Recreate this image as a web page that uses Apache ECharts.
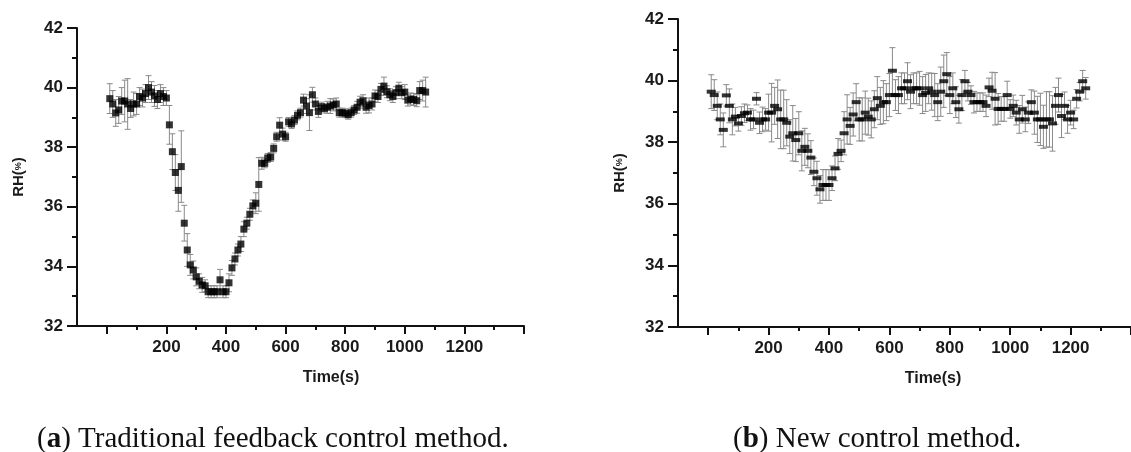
<!DOCTYPE html>
<html><head><meta charset="utf-8">
<script src="https://cdn.jsdelivr.net/npm/echarts@6/dist/echarts.min.js"></script>
<style>html,body{margin:0;padding:0;background:#fff}#c{width:1131px;height:452px}</style>
</head><body><div id="c"></div>
<script>
// ---- Panel (a): Traditional feedback control method ----
const timeA = [10,20,30,40,50,60,70,80,90,100,110,120,130,140,150,160,170,180,190,200,
  210,220,230,240,250,260,270,280,290,300,310,320,330,340,350,360,370,380,390,400,
  410,420,430,440,450,460,470,480,490,500,510,520,530,540,550,560,570,580,590,600,
  610,620,630,640,650,660,670,680,690,700,710,720,730,740,750,760,770,780,790,800,
  810,820,830,840,850,860,870,880,890,900,910,920,930,940,950,960,970,980,990,1000,
  1010,1020,1030,1040,1050,1060,1070];
const rhA = [39.63,39.45,39.15,39.25,39.55,39.55,39.45,39.3,39.45,39.45,39.7,39.65,39.8,40.0,39.85,39.72,39.6,39.8,39.7,39.65,
  38.75,37.85,37.15,36.55,37.35,35.45,34.55,34.05,33.88,33.65,
  33.5,33.38,33.35,33.15,33.15,33.15,33.15,33.55,33.15,33.15,
  33.45,33.95,34.25,34.55,34.75,35.25,35.45,35.75,36.03,36.12,
  36.75,37.46,37.46,37.64,37.67,37.96,38.35,38.74,38.44,38.35,
  38.85,38.78,38.91,39.07,39.16,39.58,39.38,39.16,39.76,39.45,
  39.2,39.36,39.3,39.34,39.38,39.42,39.45,39.16,39.16,39.14,
  39.09,39.16,39.25,39.34,39.51,39.56,39.34,39.4,39.45,39.72,
  39.7,39.94,40.05,39.86,39.76,39.7,39.83,39.98,39.83,39.85,
  39.58,39.62,39.6,39.56,39.9,39.9,39.85];
const errA = [0.5,0.45,0.45,0.45,0.45,0.7,0.85,0.3,0.4,0.35,0.3,0.3,0.3,0.4,0.35,0.35,0.3,0.3,0.3,0.25,
  0.65,0.6,0.6,0.7,1.2,0.6,0.55,0.35,0.3,0.3,
  0.25,0.25,0.2,0.2,0.2,0.2,0.2,0.35,0.2,0.2,
  0.3,0.25,0.2,0.2,0.25,0.25,0.2,0.2,0.2,0.35,
  0.9,0.2,0.15,0.15,0.15,0.15,0.15,0.25,0.2,0.15,
  0.15,0.15,0.15,0.15,0.15,0.2,0.25,0.6,0.25,0.2,
  0.2,0.15,0.15,0.2,0.25,0.2,0.2,0.15,0.15,0.15,
  0.15,0.15,0.15,0.2,0.2,0.2,0.2,0.25,0.2,0.2,
  0.2,0.2,0.3,0.2,0.2,0.2,0.2,0.2,0.2,0.25,
  0.2,0.2,0.2,0.2,0.3,0.35,0.5];

// ---- Panel (b): New control method ----
const timeB = [10,20,30,40,50,60,70,80,90,100,110,120,130,140,150,160,170,180,190,200,
  210,220,230,240,250,260,270,280,290,300,310,320,330,340,350,360,370,380,390,400,
  410,420,430,440,450,460,470,480,490,500,510,520,530,540,550,560,570,580,590,600,
  610,620,630,640,650,660,670,680,690,700,710,720,730,740,750,760,770,780,790,800,
  810,820,830,840,850,860,870,880,890,900,910,920,930,940,950,960,970,980,990,1000,
  1010,1020,1030,1040,1050,1060,1070,1080,1090,1100,1110,1120,1130,1140,1150,1160,1170,1180,1190,1200,
  1210,1220,1230,1240,1250];
const rhB = [39.64,39.53,39.18,38.74,38.4,39.52,39.18,38.74,38.83,38.61,
  38.85,38.94,38.96,38.74,38.74,39.41,38.63,38.74,38.74,38.96,
  38.96,39.18,39.07,38.74,38.74,38.63,38.18,38.29,38.07,38.29,
  37.72,37.85,37.72,37.5,37.04,36.83,36.47,36.61,36.61,36.61,
  36.83,37.15,37.62,37.72,38.29,38.74,38.53,38.9,39.3,38.74,
  38.74,38.96,38.83,38.74,39.07,39.43,39.18,39.3,39.3,39.53,
  40.32,39.53,39.53,39.75,39.75,39.98,39.64,39.75,39.75,39.75,
  39.53,39.6,39.75,39.64,39.53,39.3,39.64,39.98,40.21,39.53,
  39.75,39.3,39.07,39.53,39.98,39.64,39.53,39.3,39.3,39.3,
  39.3,39.18,39.78,39.67,39.41,39.08,39.08,39.08,39.53,39.08,
  39.18,38.96,38.74,39.07,38.74,38.96,39.3,38.96,38.74,38.74,
  38.5,38.74,38.74,38.61,39.18,39.53,38.85,39.18,38.74,38.96,
  38.74,39.41,39.64,39.98,39.75];
const errB = [0.55,0.5,0.45,0.5,0.55,0.35,0.55,0.5,0.3,0.25,
  0.3,0.3,0.25,0.35,0.3,0.2,0.35,0.4,0.35,0.6,
  0.95,0.6,0.95,0.95,0.95,0.75,0.55,0.9,0.7,0.7,
  0.65,0.6,0.55,0.55,0.45,0.55,0.45,0.5,0.5,0.5,
  0.4,0.4,0.5,0.35,0.7,0.8,0.6,0.7,0.6,0.7,
  0.7,0.7,0.6,0.6,0.6,0.7,0.6,0.7,0.6,0.7,
  0.75,0.5,0.6,0.5,0.5,0.6,0.55,0.5,0.5,0.55,
  0.6,0.6,0.5,0.6,0.7,0.6,0.8,0.85,0.7,0.6,
  0.5,0.5,0.45,0.5,0.35,0.3,0.3,0.35,0.3,0.3,
  0.3,0.35,0.3,0.6,0.85,0.5,0.4,0.4,0.45,0.3,
  0.35,0.4,0.45,0.45,0.4,0.35,0.4,0.7,0.75,0.85,
  0.7,0.9,0.9,0.9,0.6,0.55,0.7,0.45,0.45,0.4,
  0.3,0.3,0.3,0.35,0.35];

// ---- Axis ticks / labels ----
const xLabelValues = [200,400,600,800,1000,1200];
const xMajorTicks = [0,200,400,600,800,1000,1200,1400];
const xMinorTicks = [100,300,500,700,900,1100,1300];
const xTitle = 'Time(s)';
const yTitle = '{a|RH(}{b|%}{a|)}';
const captionA = '({b|a}) Traditional feedback control method.';
const captionB = '({b|b}) New control method.';

const chart = echarts.init(document.getElementById('c'), null, {renderer: 'canvas'});
const AX = '#111';
const LBL = '#1a1a1a';
const SANS = '"Liberation Sans", Arial, sans-serif';
const SERIF = '"Liberation Serif", "Times New Roman", serif';

function errData(t, v, e) { return t.map((x, i) => [x, v[i] - e[i], v[i] + e[i]]); }
function ptData(t, v) { return t.map((x, i) => [x, v[i]]); }

function errRender(capHalf) {
  return function (params, api) {
    const x = api.value(0), lo = api.value(1), hi = api.value(2);
    const a = api.coord([x, hi]), b = api.coord([x, lo]);
    const s = {stroke: '#8a8a8a', lineWidth: 1};
    return {type: 'group', children: [
      {type: 'line', shape: {x1: a[0], y1: a[1], x2: b[0], y2: b[1]}, style: s},
      {type: 'line', shape: {x1: a[0] - capHalf, y1: a[1], x2: a[0] + capHalf, y2: a[1]}, style: s},
      {type: 'line', shape: {x1: b[0] - capHalf, y1: b[1], x2: b[0] + capHalf, y2: b[1]}, style: s}
    ]};
  };
}

function xAxes(g, shift) {
  return [
    {gridIndex: g, type: 'value', position: 'bottom', min: -100, max: 1400, interval: 100,
      axisLine: {show: true, onZero: false, lineStyle: {color: AX, width: 2}},
      axisTick: {show: true, customValues: xMajorTicks, length: 8, lineStyle: {color: AX, width: 2}},
      axisLabel: {customValues: xLabelValues, fontSize: 17, fontWeight: 'bold', color: LBL, margin: 13, fontFamily: SANS,
        formatter: v => String(v)},
      splitLine: {show: false},
      name: xTitle, nameLocation: 'middle', nameGap: 44,
      nameTextStyle: {fontSize: 16, fontWeight: 'bold', color: LBL, fontFamily: SANS, padding: [0, 0, 0, shift]}},
    {gridIndex: g, type: 'value', position: 'bottom', offset: 0, min: -100, max: 1400, interval: 100,
      axisLine: {show: false, onZero: false},
      axisTick: {show: true, customValues: xMinorTicks, length: 4, lineStyle: {color: AX, width: 2}},
      axisLabel: {show: false}, splitLine: {show: false}}
  ];
}
function yAxis(g) {
  return {gridIndex: g, type: 'value', position: 'left', min: 32, max: 42, interval: 2,
    axisLine: {show: true, onZero: false, lineStyle: {color: AX, width: 2}},
    axisTick: {show: true, length: 10, lineStyle: {color: AX, width: 2}},
    minorTick: {show: true, splitNumber: 2, length: 5, lineStyle: {color: AX, width: 2}},
    axisLabel: {fontSize: 17, fontWeight: 'bold', color: LBL, margin: 14, fontFamily: SANS},
    splitLine: {show: false},
    name: yTitle, nameLocation: 'middle', nameGap: 51, nameRotate: 90,
    nameTextStyle: {color: LBL, fontFamily: SANS,
      rich: {a: {fontSize: 15, fontWeight: 'bold', color: LBL, fontFamily: SANS},
             b: {fontSize: 9, fontWeight: 'bold', color: LBL, fontFamily: SANS}}}};
}

chart.setOption({
  animation: false,
  backgroundColor: '#fff',
  grid: [
    {left: 77, top: 28, width: 447, height: 298},
    {left: 678, top: 19, width: 465, height: 308}
  ],
  xAxis: [...xAxes(0, 61), ...xAxes(1, 57)],
  yAxis: [yAxis(0), yAxis(1)],
  series: [
    {type: 'custom', xAxisIndex: 0, yAxisIndex: 0, renderItem: errRender(3),
      data: errData(timeA, rhA, errA), encode: {x: 0, y: [1, 2]}, z: 1, silent: true},
    {type: 'scatter', xAxisIndex: 0, yAxisIndex: 0, symbol: 'rect', symbolSize: [7, 7],
      itemStyle: {color: '#000'}, data: ptData(timeA, rhA), z: 3, silent: true},
    {type: 'custom', xAxisIndex: 2, yAxisIndex: 1, renderItem: errRender(3),
      data: errData(timeB, rhB, errB), encode: {x: 0, y: [1, 2]}, z: 1, silent: true},
    {type: 'scatter', xAxisIndex: 2, yAxisIndex: 1, symbol: 'rect', symbolSize: [9, 4],
      itemStyle: {color: '#000'}, data: ptData(timeB, rhB), z: 3, silent: true}
  ],
  graphic: [
    {type: 'text', left: 37, top: 425, style: {text: captionA, fontSize: 29, fontFamily: SERIF, fill: '#111',
      rich: {b: {fontSize: 29, fontFamily: SERIF, fontWeight: 'bold', fill: '#111'}}}},
    {type: 'text', left: 733, top: 425, style: {text: captionB, fontSize: 29, fontFamily: SERIF, fill: '#111',
      rich: {b: {fontSize: 29, fontFamily: SERIF, fontWeight: 'bold', fill: '#111'}}}}
  ]
});
</script></body></html>
